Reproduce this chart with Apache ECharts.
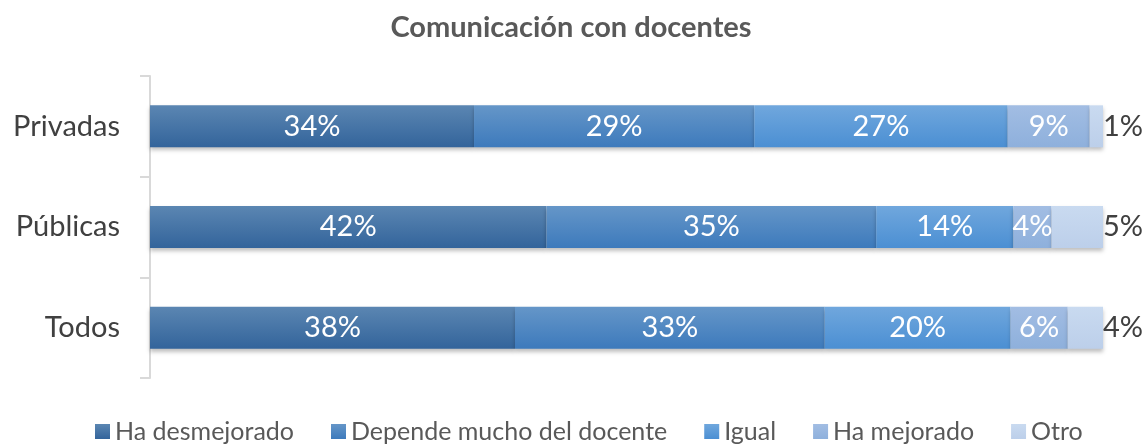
<!DOCTYPE html>
<html>
<head>
<meta charset="utf-8">
<title>Comunicación con docentes</title>
<style>
html, body { margin: 0; padding: 0; background: #fff; }
#chart { width: 1142px; height: 445px; }
</style>
</head>
<body>
<div id="chart"></div>
<script src="https://cdn.jsdelivr.net/npm/echarts@6/dist/echarts.min.js"></script>
<script>
// categories, bottom to top
var categories = ['Todos', 'Públicas', 'Privadas'];
var seriesNames = ['Ha desmejorado', 'Depende mucho del docente', 'Igual', 'Ha mejorado', 'Otro'];
// percentages per series, same order as categories
var haDesmejorado = [38.3, 41.6, 34.0];
var dependeDocente = [32.5, 34.6, 29.4];
var igual = [19.5, 14.4, 26.6];
var haMejorado = [6.0, 4.0, 8.6];
var otro = [3.7, 5.4, 1.4];

var values = [haDesmejorado, dependeDocente, igual, haMejorado, otro];
var gradients = [
    ['#5b86b2', '#33649b'],
    ['#6596c8', '#3d7abc'],
    ['#70a7dd', '#4b8fd3'],
    ['#a2bde3', '#8eb0dc'],
    ['#c9daf0', '#bccfea']
];
var legendColors = ['#3b6ca3', '#4582c3', '#5a9ad8', '#97b6e0', '#c3d5ee'];
var font = 'Lato, "Open Sans", sans-serif';

var chart = echarts.init(document.getElementById('chart'));

var series = seriesNames.map(function (name, i) {
    var last = i === seriesNames.length - 1;
    return {
        name: name,
        type: 'bar',
        stack: 'total',
        barWidth: 42,
        data: values[i],
        itemStyle: {
            color: new echarts.graphic.LinearGradient(0, 0, 0, 1, [
                { offset: 0, color: gradients[i][0] },
                { offset: 1, color: gradients[i][1] }
            ]),
            shadowColor: 'rgba(0,0,0,0.25)',
            shadowBlur: 4,
            shadowOffsetY: 3
        },
        label: {
            show: true,
            position: last ? 'right' : 'inside',
            distance: 0,
            color: last ? '#404040' : '#ffffff',
            fontSize: 29,
            fontFamily: font,
            formatter: function (p) { return Math.round(p.value) + '%'; }
        },
        emphasis: { disabled: true }
    };
});

chart.setOption({
    animation: false,
    color: legendColors,
    title: {
        text: 'Comunicación con docentes',
        left: 'center',
        top: 8,
        textStyle: { fontSize: 29, fontWeight: 'bold', color: '#595959', fontFamily: font }
    },
    legend: {
        bottom: -4,
        left: 90,
        itemWidth: 15,
        itemHeight: 15,
        itemGap: 37,
        icon: 'rect',
        textStyle: { fontSize: 25, color: '#595959', fontFamily: font },
        data: seriesNames
    },
    grid: { left: 150, right: 39, top: 76, bottom: 67 },
    xAxis: {
        type: 'value',
        min: 0,
        max: 100,
        show: false
    },
    yAxis: {
        type: 'category',
        data: categories,
        axisLine: { show: true, lineStyle: { color: '#d9d9d9', width: 2 } },
        axisTick: { show: true, length: 10, lineStyle: { color: '#d9d9d9', width: 2 } },
        axisLabel: { fontSize: 29, color: '#404040', fontFamily: font, margin: 30 }
    },
    series: series
});
</script>
</body>
</html>
